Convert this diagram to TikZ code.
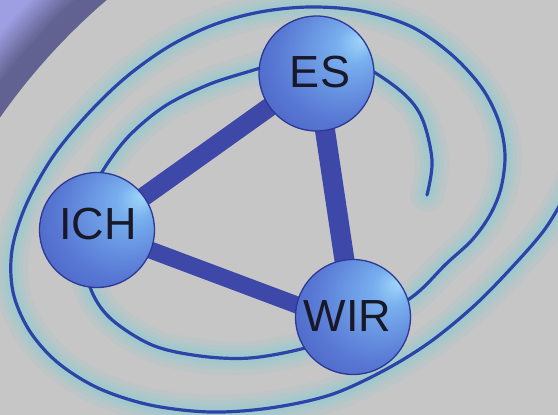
\documentclass[tikz,border=0pt]{standalone}
\usepackage{fontspec}
\setmainfont{Liberation Sans}
\pgfdeclarelayer{back}
\pgfdeclarelayer{mid}
\pgfsetlayers{back,mid,main}
\definecolor{bggray}{RGB}{198,198,198}
\definecolor{lav}{RGB}{158,158,226}
\definecolor{lavdark}{RGB}{98,98,146}
\definecolor{glowc}{RGB}{136,204,212}
\definecolor{spir}{RGB}{46,66,168}
\definecolor{barc}{RGB}{62,72,168}
\definecolor{hl}{RGB}{160,215,250}
\definecolor{hltwo}{RGB}{120,175,238}
\definecolor{midb}{RGB}{88,120,212}
\definecolor{midtwo}{RGB}{72,92,190}
\definecolor{edgeb}{RGB}{56,66,158}
\definecolor{outl}{RGB}{44,56,150}
\definecolor{txt}{RGB}{24,24,40}
\pgfdeclareradialshading{nodeball}{\pgfpoint{20bp}{15bp}}{color(0bp)=(hl); color(8bp)=(hltwo); color(27bp)=(midb); color(42bp)=(midtwo); color(50bp)=(edgeb)}
\tikzset{
  ballnode/.style={circle, minimum size=115pt, inner sep=0pt, shading=nodeball, shade, draw=outl, line width=1.3pt},
  lbl/.style={font=\fontsize{45}{45}\selectfont, text=txt, inner sep=0pt},
  barline/.style={draw=barc, line cap=butt},
  spiralline/.style={draw=spir, line width=3.2pt, line cap=round},
  glowline/.style={draw=glowc, line cap=round}
}
\def\spiralpath{plot[smooth, tension=0.55] coordinates {
(427,195) (432,160) (421,116) (397,88) (350,60) (300,55) (257,69) (210,84) (165,106)
(128,137) (102,172) (86,205) (84,245) (90,287) (110,318) (152,345) (200,356) (250,358)
(305,348) (355,330) (412,297) (446,264) (472,240) (490,215) (501,188) (505,155)
(499,122) (482,88) (452,55) (412,27) (362,11) (310,7) (260,12) (213,25) (168,47)
(125,78) (86,116) (52,158) (26,205) (12,250) (13,292) (29,330) (57,362) (98,388)
(150,405) (210,412) (270,408) (330,395) (383,371) (430,342) (475,305) (515,264)
(545,229) (565,195) (580,160)}}
\begin{document}
\begin{tikzpicture}[x=1pt,y=-1pt]
\useasboundingbox (0,0) rectangle (558,415);
\begin{pgfonlayer}{back}
\begin{scope}
\clip (0,0) rectangle (558,415);
\begin{scope}
\clip (0,0) rectangle (150,160);
\fill[lav] (0,0) rectangle (150,160);
\foreach \d in {0,...,85} {
  \pgfmathsetmacro\p{min(100,max(0,(\d-21)*100/32))}
  \draw[line width=1.4pt, color=lav!\p!lavdark] (518,480) circle[radius={632pt+\d pt}];
}
\end{scope}
\fill[bggray] (518,480) circle[radius=632pt];
\foreach \w/\o in {34/0.14, 24/0.18, 16/0.22, 10/0.3} {
  \draw[glowline, line width=\w pt, opacity=\o] \spiralpath;
}
\draw[spiralline] \spiralpath;
\end{scope}
\end{pgfonlayer}
\node[ballnode] (ICH) at (97,230) {};
\node[ballnode] (ES) at (316.5,73.5) {};
\node[ballnode] (WIR) at (353,317) {};
\coordinate (WIRlow) at (353,326);
\begin{pgfonlayer}{mid}
\draw[barline, line width=19pt] (ICH.center) -- (ES.center);
\draw[barline, line width=20pt] (ES.center) -- (WIR.center);
\draw[barline, line width=17pt] (ICH.center) -- (WIRlow);
\end{pgfonlayer}
\node[lbl] (ICHt) at (98,224.5) {ICH};
\node[lbl] (ESt) at (320,72.5) {ES};
\node[lbl] (WIRt) at (347.5,316) {WIR};
\end{tikzpicture}
\end{document}
